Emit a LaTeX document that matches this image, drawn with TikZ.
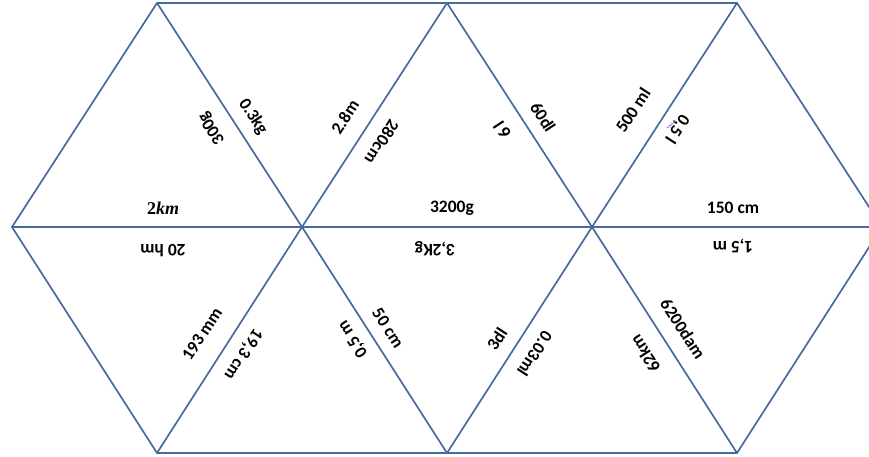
\documentclass[tikz,border=0pt]{standalone}
\usepackage{fontspec}
\setmainfont{Carlito}
\newfontfamily\mathlike{Liberation Serif}
\usetikzlibrary{decorations.pathmorphing}
\definecolor{edgeblue}{RGB}{72,106,158}
\definecolor{squig}{RGB}{110,100,220}
\begin{document}
\begin{tikzpicture}[x=1pt,y=-1pt,
  edge/.style={draw=edgeblue,line width=1.7pt,line cap=round,line join=round},
  lab/.style={font=\bfseries\fontsize{17.5}{19}\selectfont,inner sep=0pt}]
\useasboundingbox (0,0) rectangle (869,456);
\begin{scope}
\clip (0,0) rectangle (869,456);
% vertices
\coordinate (t1) at (157,3);
\coordinate (t2) at (447,3);
\coordinate (t3) at (737,3);
\coordinate (m0) at (12,227);
\coordinate (m1) at (302,227);
\coordinate (m2) at (592,227);
\coordinate (m3) at (882,227);
\coordinate (me) at (869,227);
\coordinate (b1) at (157,453);
\coordinate (b2) at (447,453);
\coordinate (b3) at (737,453);
% outline and grid
\draw[edge] (t1) -- (t3);
\draw[edge] (b1) -- (b3);
\draw[edge] (m0) -- (me);
\draw[edge] (m0) -- (t1) -- (m1) -- (t2) -- (m2) -- (t3) -- (m3);
\draw[edge] (m0) -- (b1) -- (m1) -- (b2) -- (m2) -- (b3) -- (m3);
\end{scope}
% labels on the middle line
\node[lab,font=\mathlike\bfseries\fontsize{18}{20}\selectfont] (l2km) at (163,208) {2\textit{km}};
\node[lab,rotate=180] (l20hm) at (163,251) {20 hm};
\node[lab] (l3200) at (452,208) {3200g};
\node[lab,rotate=180] (l32kg) at (435,249) {3,2Kg};
\node[lab] (l150) at (733,208) {150 cm};
\node[lab,rotate=180] (l15m) at (733,246) {1,5 m};
% upper diagonals
\node[lab,rotate=123] (l300g) at (212,128) {300g};
\node[lab,rotate=-57] (l03kg) at (253,117) {0.3kg};
\node[lab,rotate=57] (l28m) at (345,117) {2.8m};
\node[lab,rotate=-123] (l280) at (382,142) {280cm};
\node[lab,rotate=123] (l6l) at (502,130) {6 l};
\node[lab,rotate=-57] (l60dl) at (543,117) {60dl};
\node[lab,rotate=57] (l500) at (633,110) {500 ml};
\node[lab,rotate=-123] (l05l) at (677,129) {0,5 l};
% lower diagonals
\node[lab,rotate=57] (l193) at (202,334) {193 mm};
\node[lab,rotate=-123] (l193cm) at (243,354) {19,3 cm};
\node[lab,rotate=123] (l05m) at (353,339) {0,5 m};
\node[lab,rotate=-57] (l50cm) at (388,328) {50 cm};
\node[lab,rotate=57] (l3dl) at (497,339) {3dl};
\node[lab,rotate=-123] (l003) at (535,354) {0.03ml};
\node[lab,rotate=123] (l62km) at (645,354) {62km};
\node[lab,rotate=-57] (l6200) at (683,329) {6200dam};
% spell-check squiggle
\coordinate (sq1) at (667,128);
\coordinate (sq2) at (676,121);
\draw[squig,line width=0.6pt,decorate,decoration={snake,amplitude=0.8pt,segment length=2.5pt}] (sq1) -- (sq2);
\end{tikzpicture}
\end{document}
